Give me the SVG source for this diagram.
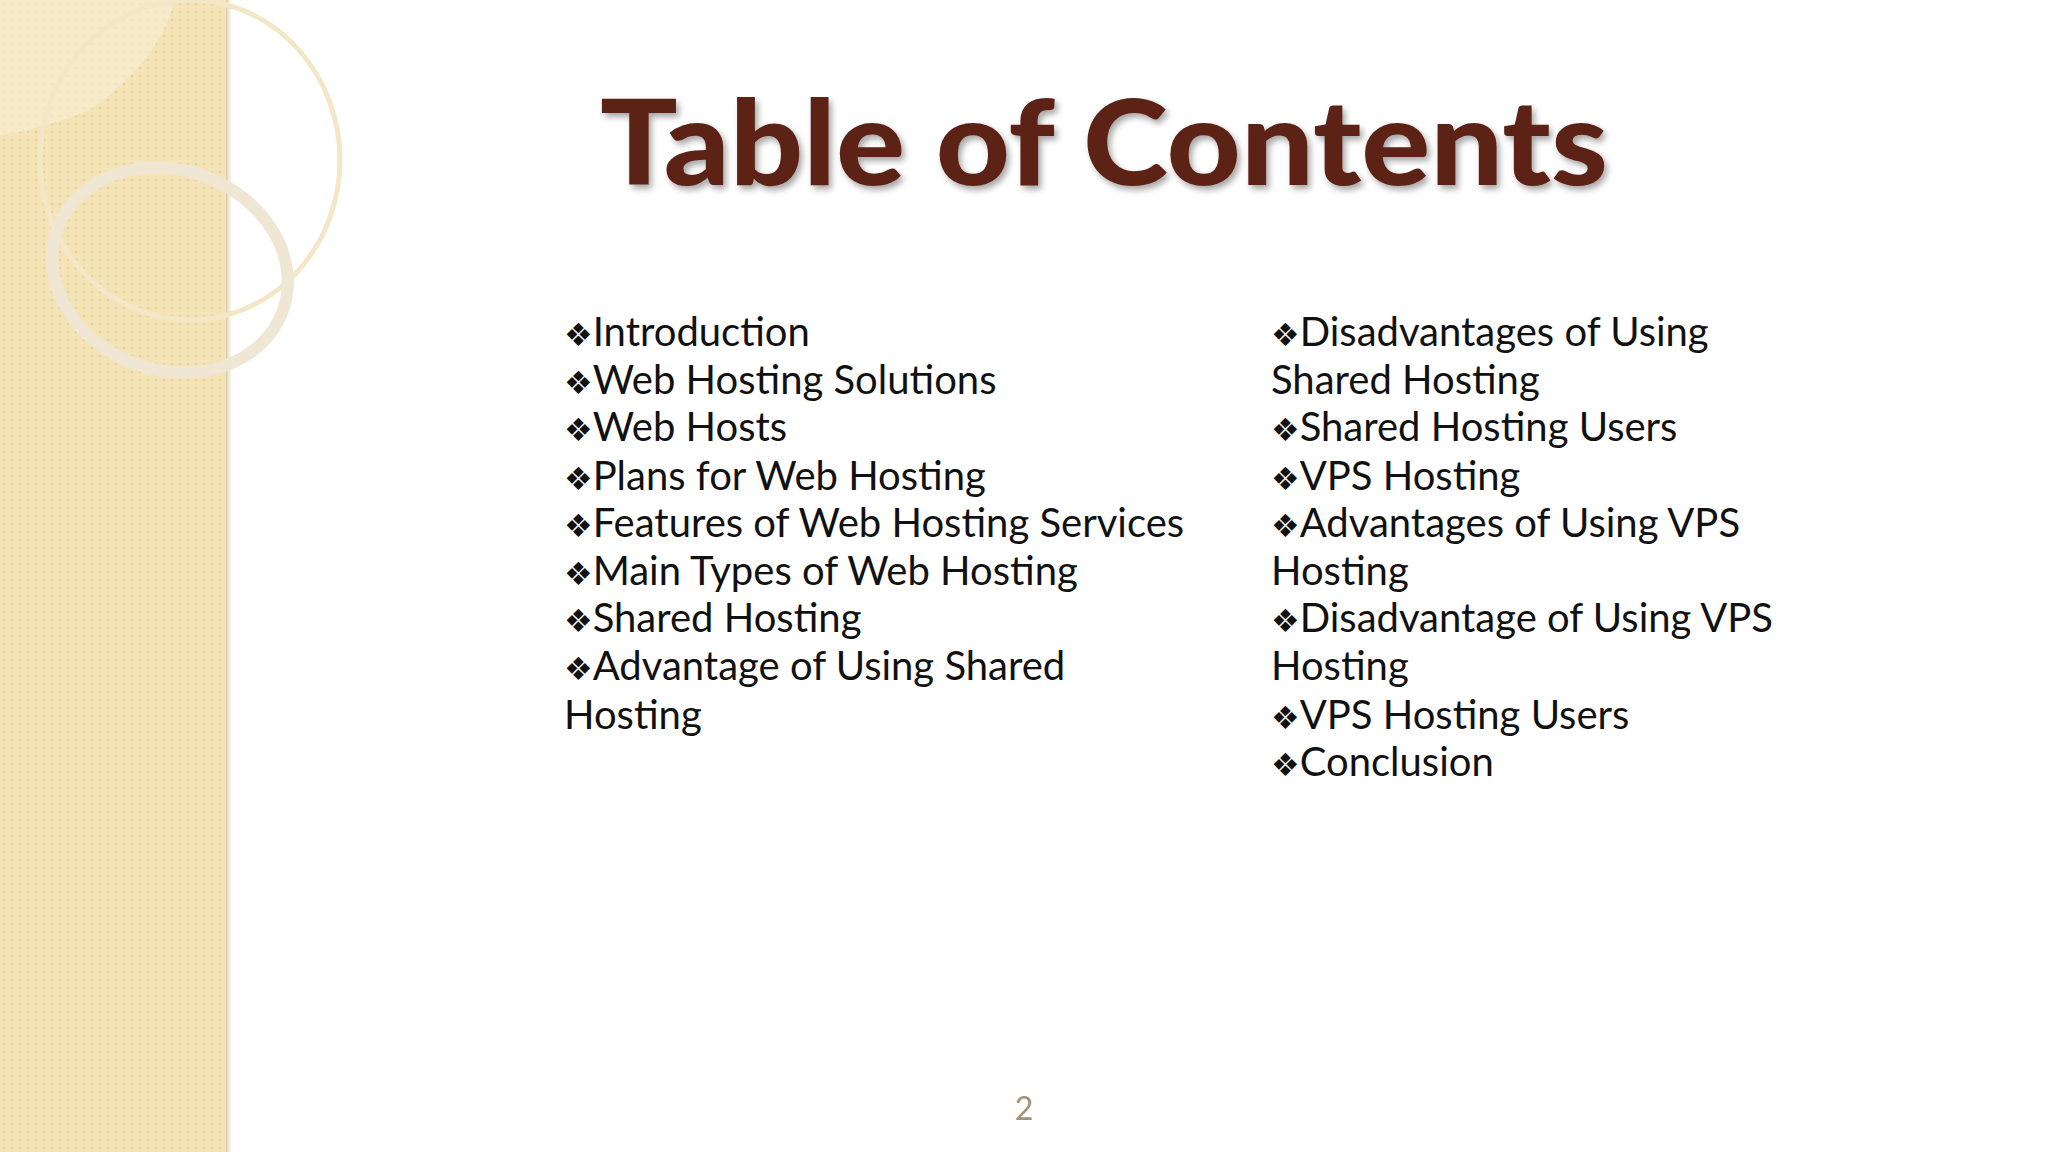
<svg xmlns="http://www.w3.org/2000/svg" width="2048" height="1152" viewBox="0 0 2048 1152">
<defs>
<pattern id="p" width="8" height="8" patternUnits="userSpaceOnUse">
<rect width="8" height="8" fill="#f4e4b8"/>
<circle cx="4" cy="4" r="1.6" fill="#e8d49c"/>
</pattern>
<linearGradient id="sh" x1="0" x2="1"><stop offset="0" stop-color="#d8c9a0"/><stop offset="1" stop-color="#ffffff" stop-opacity="0"/></linearGradient>
<filter id="ts"><feDropShadow dx="3" dy="4" stdDeviation="3" flood-color="#000" flood-opacity="0.35"/></filter>
</defs>
<style>
.it{font-family:Lato,"Open Sans",sans-serif;font-size:40px;fill:#111}
.b{font-family:"DejaVu Sans",sans-serif;font-size:32px}
</style>
<rect width="2048" height="1152" fill="#fff"/>
<g id="panel">
<rect width="226" height="1152" fill="url(#p)"/>
<rect x="226" width="8" height="1152" fill="url(#sh)"/>
<path d="M0 0 H175 Q160 60 90 110 Q40 130 0 135 Z" fill="#f8ecd0" opacity="0.7"/>
<ellipse cx="190" cy="160" rx="150" ry="160" fill="none" stroke="#f3e7c7" stroke-width="5"/>
<ellipse cx="170" cy="270" rx="120" ry="100" fill="none" stroke="#efe6d4" stroke-width="12" transform="rotate(20 170 270)"/>
</g>
<g id="title">
<text x="1104" y="185" text-anchor="middle" font-family="Lato,sans-serif" font-weight="900" font-size="118" fill="#5c2416" filter="url(#ts)" textLength="1008" lengthAdjust="spacingAndGlyphs">Table of Contents</text>
</g>
<g id="left" class="it">
<text x="564" y="346"><tspan class="b">❖</tspan>Introduction</text>
<text x="564" y="394"><tspan class="b">❖</tspan>Web Hosting Solutions</text>
<text x="564" y="441"><tspan class="b">❖</tspan>Web Hosts</text>
<text x="564" y="490"><tspan class="b">❖</tspan>Plans for Web Hosting</text>
<text x="564" y="537"><tspan class="b">❖</tspan>Features of Web Hosting Services</text>
<text x="564" y="585"><tspan class="b">❖</tspan>Main Types of Web Hosting</text>
<text x="564" y="632"><tspan class="b">❖</tspan>Shared Hosting</text>
<text x="564" y="680"><tspan class="b">❖</tspan>Advantage of Using Shared</text>
<text x="564" y="729">Hosting</text>
</g>
<g id="right" class="it">
<text x="1271" y="346"><tspan class="b">❖</tspan>Disadvantages of Using</text>
<text x="1271" y="394">Shared Hosting</text>
<text x="1271" y="441"><tspan class="b">❖</tspan>Shared Hosting Users</text>
<text x="1271" y="490"><tspan class="b">❖</tspan>VPS Hosting</text>
<text x="1271" y="537"><tspan class="b">❖</tspan>Advantages of Using VPS</text>
<text x="1271" y="585">Hosting</text>
<text x="1271" y="632"><tspan class="b">❖</tspan>Disadvantage of Using VPS</text>
<text x="1271" y="680">Hosting</text>
<text x="1271" y="729"><tspan class="b">❖</tspan>VPS Hosting Users</text>
<text x="1271" y="776"><tspan class="b">❖</tspan>Conclusion</text>
</g>
<g id="page"><text x="1024" y="1120" text-anchor="middle" font-family="Lato,sans-serif" font-size="32" fill="#a39276">2</text></g>
</svg>
